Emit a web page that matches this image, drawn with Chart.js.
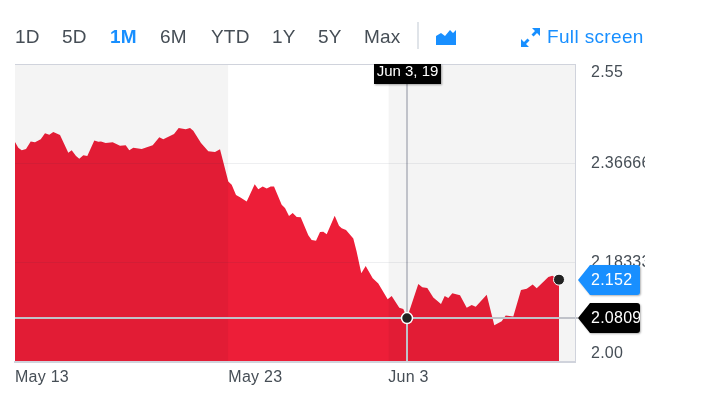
<!DOCTYPE html>
<html>
<head>
<meta charset="utf-8">
<title>Chart</title>
<script src="https://cdn.jsdelivr.net/npm/chart.js@4"></script>
<style>
  html, body { margin: 0; padding: 0; background: #fff; width: 705px; height: 395px; overflow: hidden; }
  body { position: relative; font-family: "Liberation Sans", Arial, sans-serif; }
  #c { position: absolute; left: 0; top: 0; }
  .btn { position: absolute; top: 26px; font-size: 19px; line-height: 22px; color: #464e56; letter-spacing: .2px; white-space: nowrap; }
  .on { color: #188fff; font-weight: bold; }
  #fs { color: #188fff; letter-spacing: .35px; left: 547px; }
  #div { position: absolute; left: 417px; top: 22px; width: 2px; height: 27px; background: #e0e4e9; }
  svg { position: absolute; }
</style>
</head>
<body>
<canvas id="c" width="645" height="395"></canvas>
<div class="btn" style="left:15px">1D</div>
<div class="btn" style="left:62px">5D</div>
<div class="btn on" style="left:110px">1M</div>
<div class="btn" style="left:160px">6M</div>
<div class="btn" style="left:211px">YTD</div>
<div class="btn" style="left:272px">1Y</div>
<div class="btn" style="left:318px">5Y</div>
<div class="btn" style="left:364px">Max</div>
<div id="div"></div>
<svg style="left:436px;top:29px" width="20" height="17" viewBox="0 0 20 17"><path d="M0 7 L5 4 L9 7 L14 1 L17 4 L20 1 L20 16 L0 16 Z" fill="#188fff"/></svg>
<svg style="left:521px;top:28px" width="19" height="19" viewBox="0 0 19 19"><g fill="#188fff"><path d="M11 0 H19 V8 L16 5 L12.5 8.5 L10.5 6.5 L14 3 Z"/><path d="M8 19 H0 V11 L3 14 L6.5 10.5 L8.5 12.5 L5 16 Z"/></g></svg>
<div class="btn" id="fs">Full screen</div>
<script>
const seriesDays = [0,0.124,0.251,0.413,0.589,0.75,0.964,1.125,1.286,1.436,1.688,1.999,2.126,2.288,2.411,2.561,2.711,2.974,3.124,3.225,3.401,3.664,3.938,4.151,4.286,4.436,4.751,5.164,5.411,5.561,5.963,6.139,6.401,6.563,6.686,6.975,7.249,7.5,7.688,7.999,8.126,8.288,8.438,8.689,8.989,9.124,9.289,9.439,9.589,9.713,10.001,10.125,10.275,10.414,10.564,10.714,10.999,11.126,11.288,11.438,11.561,11.689,11.989,12.15,12.251,12.413,12.686,12.806,12.986,13.151,13.414,13.624,13.976,14.126,14.411,14.561,14.7,15.124,15.274,15.461,15.686,15.975,16.114,16.249,16.399,16.688,16.939,17.126,17.276,17.689,17.974,18.251,18.401,18.686,18.975,19.189,19.414,19.564,20,20.149,20.4];
const seriesValues = [2.406,2.3955,2.391,2.393,2.407,2.4055,2.411,2.422,2.4195,2.4245,2.419,2.386,2.391,2.38,2.375,2.3815,2.38,2.409,2.4066,2.407,2.404,2.4055,2.399,2.4,2.391,2.3955,2.393,2.4,2.415,2.411,2.421,2.432,2.4295,2.432,2.427,2.404,2.389,2.3876,2.3926,2.333,2.327,2.308,2.304,2.296,2.328,2.319,2.324,2.32,2.324,2.324,2.29,2.284,2.2695,2.275,2.2676,2.267,2.234,2.225,2.224,2.24,2.2405,2.236,2.27,2.2516,2.247,2.2436,2.228,2.205,2.164,2.177,2.1545,2.145,2.116,2.122,2.1,2.098,2.08099,2.144,2.138,2.1366,2.119,2.107,2.122,2.118,2.127,2.123,2.1,2.105,2.102,2.124,2.068,2.075,2.086,2.084,2.133,2.135,2.143,2.136,2.157,2.159,2.152];
const tickDays = [0, 8, 14];
const tickLabels = ["May 13", "May 23", "Jun 3"];
const yTicks = [2, 2.18333, 2.36666, 2.55];
const yLabels = ["2.00", "2.18333", "2.36666", "2.55"];
const bandA = [0, 8];
const bandB = [14, 21];
const xMin = 0, xMax = 21, yMin = 2, yMax = 2.55;
const hoverDay = 14.7, hoverValue = 2.08099, hoverText = "Jun 3, 19", hoverLabel = "2.08099";
const lastValue = 2.152, lastLabel = "2.152";

const RED = "#ed1e38", BLUE = "#188fff", INK = "#464e56", FRAME = "#d0d3dc", CROSS = "#c0c2c9";
const FONT = '"Liberation Sans", Arial, sans-serif';

function band(days) {
  return { data: days.map(d => ({ x: d, y: yMax })), fill: "start", backgroundColor: "rgba(0,0,0,0.045)",
           borderWidth: 0, pointRadius: 0, order: 3 };
}
function priceTag(ctx, scale, value, text, color) {
  const y = Math.round(scale.getPixelForValue(value));
  const L = 578, B = 590, R = 640, h = 15, r = 3;
  ctx.save();
  ctx.shadowColor = "rgba(0,0,0,0.3)"; ctx.shadowBlur = 2; ctx.shadowOffsetX = 1; ctx.shadowOffsetY = 1;
  ctx.fillStyle = color;
  ctx.beginPath();
  ctx.moveTo(L, y);
  ctx.lineTo(B, y - h);
  ctx.lineTo(R - r, y - h);
  ctx.quadraticCurveTo(R, y - h, R, y - h + r);
  ctx.lineTo(R, y + h - r);
  ctx.quadraticCurveTo(R, y + h, R - r, y + h);
  ctx.lineTo(B, y + h);
  ctx.closePath();
  ctx.fill();
  ctx.restore();
  ctx.save();
  ctx.beginPath(); ctx.rect(L, y - h, R - L, 2 * h); ctx.clip();
  ctx.fillStyle = "#fff"; ctx.font = "16px " + FONT; ctx.textAlign = "left"; ctx.textBaseline = "middle";
  ctx.fillText(text, 591, y + 0.5);
  ctx.restore();
}
const overlays = {
  id: "overlays",
  beforeDraw(chart) { chart.ctx.letterSpacing = "0.25px"; },
  afterDraw(chart) {
    const { ctx, scales: { x, y } } = chart;
    priceTag(ctx, y, lastValue, lastLabel, BLUE);
    priceTag(ctx, y, hoverValue, hoverLabel, "#000");
    const cx = x.getPixelForValue(hoverDay), top = y.getPixelForValue(yMax);
    const w = 67, h = 20, bx = Math.round(cx - 33.5);
    ctx.save();
    ctx.shadowColor = "rgba(0,0,0,0.35)"; ctx.shadowBlur = 2; ctx.shadowOffsetX = 1; ctx.shadowOffsetY = 1;
    ctx.fillStyle = "#000";
    ctx.fillRect(bx, top, w, h);
    ctx.restore();
    ctx.letterSpacing = "0px";
    ctx.fillStyle = "#fff"; ctx.font = "15px " + FONT; ctx.textAlign = "center"; ctx.textBaseline = "middle";
    ctx.fillText(hoverText, bx + w / 2, top + 7.5);
  }
};
Chart.register(overlays);
new Chart(document.getElementById("c"), {
  type: "line",
  data: {
    datasets: [
      { data: seriesDays.map((d, i) => ({ x: d, y: seriesValues[i] })), fill: "start", backgroundColor: RED,
        borderWidth: 0, pointRadius: 0, tension: 0, order: 4 },
      band(bandA),
      band(bandB),
      { data: [{ x: hoverDay, y: yMin }, { x: hoverDay, y: yMax }], borderColor: CROSS, borderWidth: 2, pointRadius: 0, fill: false, order: 2 },
      { data: [{ x: xMin, y: hoverValue }, { x: 21.11, y: hoverValue }], borderColor: CROSS, borderWidth: 2, pointRadius: 0, fill: false, clip: false, order: 2 },
      { data: [{ x: hoverDay, y: hoverValue }], showLine: false, pointRadius: 5.5, pointBackgroundColor: "#222", pointBorderColor: "#fff", pointBorderWidth: 1.5, clip: false, order: 1 },
      { data: [{ x: seriesDays[seriesDays.length - 1], y: lastValue }], showLine: false, pointRadius: 5.5, pointBackgroundColor: "#222", pointBorderColor: "#fff", pointBorderWidth: 1, clip: false, order: 1 }
    ]
  },
  options: {
    responsive: false,
    animation: false,
    events: [],
    layout: { padding: { left: 15, top: 64, right: 0, bottom: 0 } },
    plugins: { legend: { display: false }, tooltip: { enabled: false } },
    scales: {
      x: {
        type: "linear", min: xMin, max: xMax,
        afterBuildTicks: s => { s.ticks = tickDays.map(value => ({ value })); },
        afterFit: s => { s.height = 33; s.paddingLeft = 0; s.paddingRight = 0; },
        grid: { display: false, drawTicks: false },
        border: { display: true, color: FRAME, width: 2, z: 1 },
        ticks: { autoSkip: false, maxRotation: 0, align: "start", padding: 6, color: INK,
                 font: { family: FONT, size: 16 },
                 callback: v => tickLabels[tickDays.indexOf(v)] }
      },
      y: {
        type: "linear", position: "right", min: yMin, max: yMax,
        afterBuildTicks: s => { s.ticks = yTicks.map(value => ({ value })); },
        afterFit: s => { s.width = 70; s.paddingTop = 0; s.paddingBottom = 0; },
        grid: { z: 1, drawTicks: false,
                color: c => c.tick && c.tick.value === yMax ? FRAME : (c.tick && c.tick.value === yMin ? "rgba(0,0,0,0)" : "rgba(40,50,80,0.08)") },
        border: { display: true, color: FRAME, width: 1, z: 1 },
        ticks: { padding: 16, color: INK, font: { family: FONT, size: 16, lineHeight: 1.1 },
                 callback: v => {
                   const t = yLabels[yTicks.indexOf(v)];
                   return v === yMax ? ["", t] : v === yMin ? [t, ""] : t;
                 } }
      }
    }
  }
});
</script>
</body>
</html>
